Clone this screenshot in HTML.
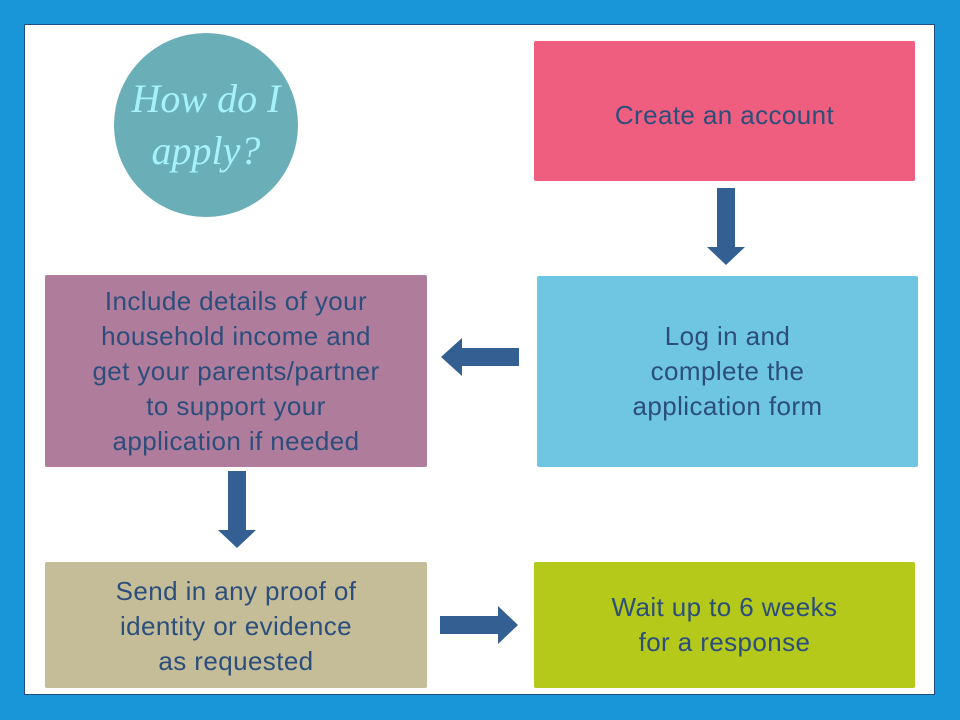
<!DOCTYPE html>
<html><head><style>
body{margin:0;width:960px;height:720px;background:#1896d8;position:relative;overflow:hidden;font-family:"Liberation Sans",sans-serif}
.frame{position:absolute;left:24px;top:24px;width:911px;height:671px;background:#fff;border:1px solid #1f4f80;box-sizing:border-box}
.b{position:absolute;display:flex;align-items:center;justify-content:center;text-align:center;color:#2c4e7c;font-size:26px;letter-spacing:0.4px;line-height:35px;border-radius:2px;white-space:nowrap}
.c{position:absolute;left:114px;top:33px;width:184px;height:184px;border-radius:50%;background:#6aaeb8;color:#a6f2fb;font-family:"Liberation Serif",serif;font-style:italic;font-size:40px;line-height:52px;text-align:center;display:flex;align-items:center;justify-content:center}
</style></head><body>
<div class="frame"></div>
<div class="c">How do I<br>apply?</div>
<div class="b" style="left:534px;top:41px;width:381px;height:140px;background:#ef5e7e;box-sizing:border-box;padding-top:8px">Create an account</div>
<div class="b" style="left:537px;top:276px;width:381px;height:191px;background:#6ec6e3">Log in and<br>complete the<br>application form</div>
<div class="b" style="left:45px;top:275px;width:382px;height:192px;background:#b07c9c">Include details of your<br>household income and<br>get your parents/partner<br>to support your<br>application if needed</div>
<div class="b" style="left:45px;top:562px;width:382px;height:126px;background:#c5bd98;box-sizing:border-box;padding-top:2px">Send in any proof of<br>identity or evidence<br>as requested</div>
<div class="b" style="left:534px;top:562px;width:381px;height:126px;background:#b5c91a">Wait up to 6 weeks<br>for a response</div>
<svg width="960" height="720" style="position:absolute;left:0;top:0">
<g fill="#345f92">
<polygon points="717,188 735,188 735,247 745,247 726,265 707,247 717,247"/>
<polygon points="519,348 519,366 462,366 462,376 441,357 462,338 462,348"/>
<polygon points="228,471 246,471 246,530 256,530 237,548 218,530 228,530"/>
<polygon points="440,616 498,616 498,606 518,625 498,644 498,634 440,634"/>
</g></svg>
</body></html>
